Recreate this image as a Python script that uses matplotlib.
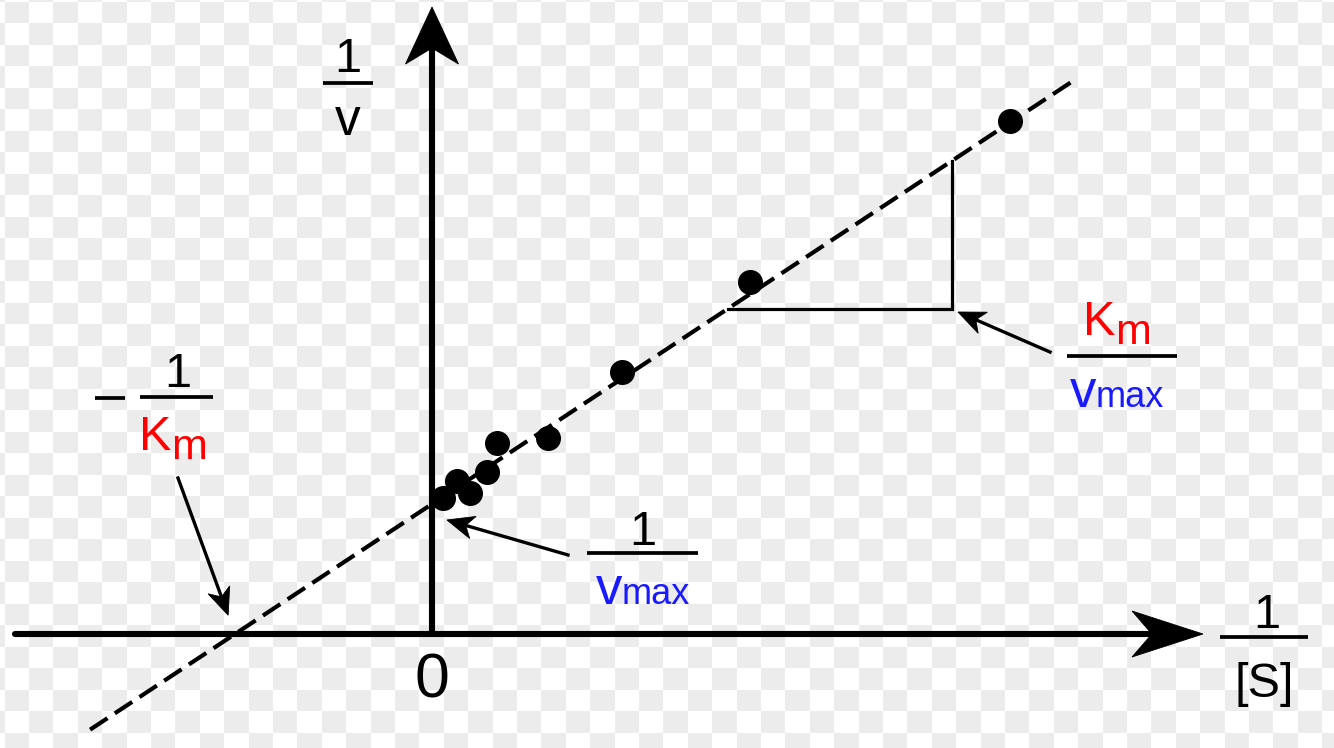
import numpy as np
import matplotlib.pyplot as plt
from matplotlib.patches import Polygon

plt.rcParams['font.family'] = ['Liberation Sans', 'DejaVu Sans']

# Lineweaver-Burk plot: 1/v = (Km/Vmax) * 1/[S] + 1/Vmax
km = 0.66
vmax = 1.0
inv_s = [0.085, 0.192, 0.292, 0.423, 0.50, 0.892, 1.462, 2.446, 4.446]
inv_v = [1.046, 1.177, 1.085, 1.246, 1.469, 1.508, 2.015, 2.708, 3.946]
fit_range = [-2.63, 4.95]   # extent of the dashed fit line (1/[S])
slope_tri = [2.277, 4.0]    # 1/[S] span of the slope triangle

slope = km / vmax
y_int = 1 / vmax
x_int = -1 / km

RED = '#ff0000'
BLUE = '#1a1aff'
PX = 1 / 130  # data units per pixel

fig = plt.figure(figsize=(13.34, 7.48), dpi=100)

# transparent-background checkerboard
bg = fig.add_axes([0, 0, 1, 1])
xe = 4.6 + 24.4 * np.arange(-1, 56)
ye = 1.5 + 21.5 * np.arange(-1, 36)
ii, jj = np.meshgrid(np.arange(len(xe) - 1), np.arange(len(ye) - 1))
bg.pcolormesh(xe, ye, (ii + jj) % 2, cmap=plt.matplotlib.colors.ListedColormap(['#ececec', 'white']),
              shading='flat')
bg.set_xlim(0, 1334)
bg.set_ylim(748, 0)
bg.axis('off')

ax = fig.add_axes([0, 0, 1, 1])
ax.set_xlim(-432 * PX, 902 * PX)
ax.set_ylim(-114 * PX, 634 * PX)
ax.set_facecolor('none')
ax.axis('off')


def head(tip, direction, length, width, notch=0.72):
    u = np.asarray(direction, float)
    u = u / np.hypot(*u)
    n = np.array([-u[1], u[0]])
    tip = np.asarray(tip, float)
    back = tip - length * u
    pts = [tip, back + width / 2 * n, tip - notch * length * u, back - width / 2 * n]
    ax.add_patch(Polygon(pts, closed=True, facecolor='black', edgecolor='black',
                         lw=0.6, zorder=6))


def arrow(tail, tip, lw=2.4, length=27 * PX, width=23 * PX, shrink=0.0):
    tail = np.asarray(tail, float)
    tip = np.asarray(tip, float)
    u = (tip - tail) / np.hypot(*(tip - tail))
    tip = tip - shrink * u
    end = tip - 0.6 * length * u
    ax.plot([tail[0], end[0]], [tail[1], end[1]], color='black', lw=lw, zorder=5)
    head(tip, u, length, width)


def bar(x1, x2, y, lw=2.7):
    ax.plot([x1, x2], [y, y], color='black', lw=lw, solid_capstyle='butt', zorder=5)


# axes with arrows
x_tip = 1203 * PX - 432 * PX
y_tip = (634 - 7) * PX
ax.plot([-417 * PX, x_tip - 40 * PX], [0, 0], color='black', lw=4.4,
        solid_capstyle='round', zorder=3)
head((x_tip, 0), (1, 0), 71 * PX, 46 * PX)
ax.plot([0, 0], [0, y_tip - 30 * PX], color='black', lw=4.4, solid_capstyle='butt', zorder=3)
head((0, y_tip), (0, 1), 57 * PX, 53 * PX)

# dashed fit line
xs = np.array(fit_range)
ax.plot(xs, slope * xs + y_int, color='black', lw=3.0, ls=(0, (5, 2.1)), zorder=3)

# data points
ax.plot(inv_s, inv_v, 'o', color='black', ms=17, zorder=4)

# slope triangle
ya = slope * slope_tri[0] + y_int
yb = slope * slope_tri[1] + y_int
ax.plot([slope_tri[0], slope_tri[1], slope_tri[1]], [ya, ya, yb], color='black', lw=2.3,
        solid_joinstyle='miter', zorder=3)

# 1/v label
ax.text(-0.646, 4.323, '1', fontsize=35, ha='center', va='baseline')
bar(-0.838, -0.454, 4.238)
ax.text(-0.646, 3.838, 'v', fontsize=37, ha='center', va='baseline')

# 1/[S] label
ax.text(6.423, 0.046, '1', fontsize=35, ha='center', va='baseline')
bar(6.062, 6.738, -0.023)
ax.text(6.40, -0.485, '[S]', fontsize=35, ha='center', va='baseline')

# origin
ax.text(0.0, -0.485, '0', fontsize=45, ha='center', va='baseline')

# -1/Km label
bar(-2.592, -2.362, 1.815)
ax.text(-1.954, 1.90, '1', fontsize=35, ha='center', va='baseline')
bar(-2.246, -1.685, 1.823)
ax.text(-2.008, 1.415, 'K', fontsize=35, color=RED, ha='right', va='baseline')
ax.text(-2.008, 1.346, 'm', fontsize=31, color=RED, ha='left', va='baseline')
arrow((-1.954, 1.20), (x_int, 0), shrink=20 * PX)

# 1/vmax label
ax.text(1.623, 0.685, '1', fontsize=35, ha='center', va='baseline')
bar(1.192, 2.046, 0.623)
ax.text(1.462, 0.231, 'v', fontsize=38, color=BLUE, ha='right', va='baseline')
ax.text(1.462, 0.231, 'max', fontsize=26, color=BLUE, ha='left', va='baseline')
arrow((1.046, 0.608), (0.115, 0.877))

# Km/vmax label
ax.text(5.254, 2.300, 'K', fontsize=35, color=RED, ha='right', va='baseline')
ax.text(5.254, 2.231, 'm', fontsize=31, color=RED, ha='left', va='baseline')
bar(4.885, 5.731, 2.138)
ax.text(5.108, 1.746, 'v', fontsize=38, color=BLUE, ha='right', va='baseline')
ax.text(5.108, 1.746, 'max', fontsize=26, color=BLUE, ha='left', va='baseline')
arrow((4.754, 2.169), (4.046, 2.477))

fig.savefig('out.png', dpi=100)
